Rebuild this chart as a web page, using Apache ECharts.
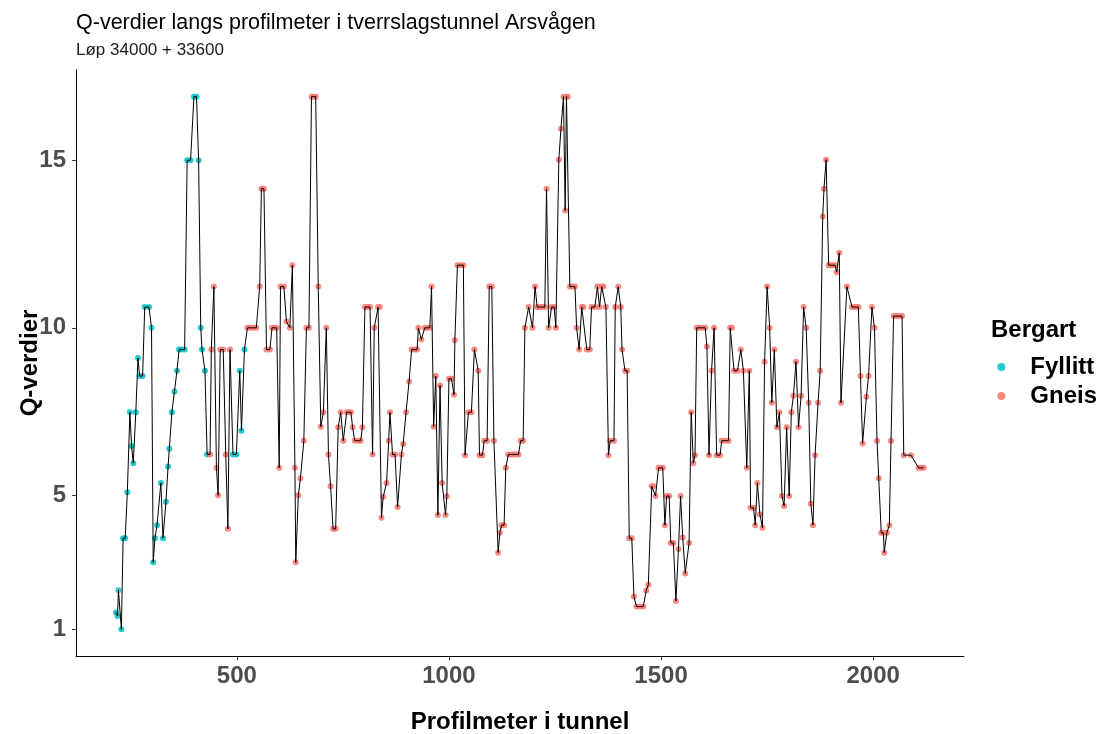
<!DOCTYPE html>
<html>
<head>
<meta charset="utf-8">
<script src="https://cdn.jsdelivr.net/npm/echarts@6/dist/echarts.min.js"></script>
<style>
  html, body { margin: 0; padding: 0; background: #fff; }
  #chart { width: 1101px; height: 734px; }
</style>
</head>
<body>
<div id="chart"></div>
<script>
var FONT = 'Liberation Sans, Arial, sans-serif';

var titleText = 'Q-verdier langs profilmeter i tverrslagstunnel Arsvågen';
var subtitleText = 'Løp 34000 + 33600';

// tick values shown on the axes
var xTicks = [500, 1000, 1500, 2000];
var yTicks = [1, 5, 10, 15];

// Fyllitt (profilmeter / Q)
var fyllittMeter = [215, 219, 221, 228, 232, 237, 242, 248, 252, 256,
                    262, 267, 271, 278, 283, 293, 299, 303, 307, 312,
                    321, 326, 333, 338, 341, 347, 353, 359, 364, 370,
                    377, 383, 391, 399, 405, 410, 415, 418, 425, 430,
                    491, 499, 507, 511, 518];
var fyllittQ = [1.5, 1.4, 2.17, 1.0, 3.72, 3.72, 5.09, 7.48, 6.47, 5.96,
                7.48, 9.1, 8.56, 8.56, 10.62, 10.62, 10.0, 3.0, 3.72, 4.11,
                5.37, 3.72, 4.81, 5.86, 6.39, 7.48, 8.1, 8.72, 9.35, 9.35,
                9.35, 15.0, 15.0, 16.9, 16.9, 15.0, 10.0, 9.35, 8.72, 6.22,
                6.22, 6.22, 8.72, 6.93, 9.35];

// Gneis (profilmeter / Q)
var gneisMeter = [437, 440, 446, 452, 456, 461, 468, 474, 479, 484,
                  525, 532, 539, 546, 554, 558, 564, 570, 578, 583,
                  588, 594, 600, 603, 611, 617, 625, 631, 637, 639,
                  645, 650, 658, 664, 670, 676, 681, 686, 692, 698,
                  704, 711, 716, 721, 727, 733, 739, 745, 751, 759,
                  764, 769, 773, 778, 786, 792, 796, 802, 808, 814,
                  820, 824, 833, 837, 841, 845, 853, 858, 861, 867,
                  873, 879, 888, 892, 899, 906, 912, 919, 925, 928,
                  935, 943, 949, 955, 959, 964, 969, 974, 979, 984,
                  992, 995, 1000, 1006, 1012, 1014, 1020, 1027, 1034, 1038,
                  1046, 1053, 1060, 1069, 1072, 1079, 1083, 1090, 1095, 1101,
                  1106, 1116, 1120, 1124, 1130, 1134, 1140, 1146, 1152, 1158,
                  1164, 1169, 1175, 1179, 1188, 1197, 1203, 1208, 1214, 1220,
                  1226, 1230, 1235, 1242, 1248, 1252, 1259, 1264, 1270, 1274,
                  1277, 1280, 1285, 1291, 1297, 1301, 1307, 1313, 1317, 1325,
                  1332, 1336, 1344, 1350, 1355, 1360, 1364, 1370, 1376, 1380,
                  1389, 1392, 1399, 1405, 1408, 1415, 1420, 1425, 1431, 1436,
                  1442, 1450, 1458, 1465, 1470, 1478, 1482, 1487, 1494, 1499,
                  1504, 1509, 1513, 1519, 1523, 1529, 1535, 1541, 1546, 1551,
                  1557, 1566, 1571, 1576, 1580, 1584, 1590, 1597, 1604, 1608,
                  1613, 1619, 1625, 1631, 1639, 1643, 1651, 1659, 1663, 1667,
                  1672, 1680, 1688, 1694, 1702, 1708, 1711, 1718, 1722, 1727,
                  1733, 1739, 1744, 1750, 1756, 1761, 1767, 1773, 1779, 1785,
                  1790, 1796, 1802, 1807, 1812, 1818, 1824, 1830, 1836, 1842,
                  1848, 1853, 1858, 1863, 1870, 1875, 1881, 1884, 1889, 1895,
                  1900, 1905, 1910, 1914, 1920, 1924, 1938, 1950, 1955, 1960,
                  1965, 1970, 1975, 1984, 1989, 1997, 2003, 2009, 2013, 2019,
                  2024, 2026, 2032, 2038, 2042, 2048, 2054, 2061, 2068, 2072,
                  2089, 2107, 2113, 2119];
var gneisQ = [6.22, 9.35, 11.23, 5.82, 5.0, 9.35, 9.35, 6.22, 4.0, 9.35,
              10, 10, 10, 10, 11.23, 14.15, 14.15, 9.35, 9.35, 10,
              10, 10, 5.82, 11.23, 11.23, 10.19, 10, 11.87, 5.82, 3.0,
              5.0, 5.51, 6.63, 10, 10, 16.9, 16.9, 16.9, 11.23, 7.05,
              7.48, 10, 6.22, 5.27, 4.0, 4.0, 7.03, 7.48, 6.63, 7.48,
              7.48, 7.48, 7.03, 6.63, 6.63, 6.63, 7.03, 10.62, 10.62, 10.62,
              6.22, 10, 10.62, 10.62, 4.33, 4.96, 5.37, 6.63, 7.48, 6.22,
              6.22, 4.65, 6.22, 6.53, 7.48, 8.4, 9.35, 9.35, 9.35, 10,
              9.65, 10, 10, 10, 11.23, 7.05, 8.56, 4.41, 8.28, 5.37,
              4.41, 4.97, 8.48, 8.48, 8.0, 9.63, 11.87, 11.87, 11.87, 6.2,
              7.48, 7.48, 9.35, 8.72, 6.2, 6.2, 6.63, 6.63, 11.23, 11.23,
              6.63, 3.29, 3.88, 4.11, 4.11, 5.82, 6.22, 6.22, 6.22, 6.22,
              6.22, 6.63, 6.63, 10, 10.62, 10, 11.23, 10.62, 10.62, 10.62,
              10.62, 14.15, 10, 10.62, 10.62, 10, 15.02, 15.94, 16.9, 13.5,
              16.9, 16.9, 11.23, 11.23, 11.23, 10, 9.35, 10.62, 10.62, 9.35,
              9.35, 10.62, 10.62, 11.23, 10.62, 11.23, 11.23, 10.62, 6.2, 6.63,
              6.63, 10.62, 11.23, 10.62, 9.35, 8.72, 8.72, 3.72, 3.72, 1.98,
              1.68, 1.68, 1.68, 2.16, 2.33, 5.27, 5.27, 4.98, 5.82, 5.82,
              5.82, 4.11, 4.98, 4.98, 3.58, 3.58, 1.85, 3.4, 4.98, 3.74,
              2.67, 3.58, 7.48, 5.96, 6.2, 10, 10, 10, 10, 9.44,
              6.2, 8.72, 10, 6.2, 6.2, 6.63, 6.63, 6.63, 10, 10,
              8.72, 8.72, 9.35, 8.72, 5.82, 8.72, 4.63, 4.63, 4.11, 5.37,
              4.43, 4.03, 8.99, 11.23, 10, 7.76, 9.35, 7.03, 7.48, 4.98,
              4.68, 7.03, 4.98, 7.48, 7.97, 8.99, 7.03, 7.97, 10.62, 10,
              7.76, 4.75, 4.11, 6.2, 7.76, 8.72, 13.32, 14.15, 15.02, 11.87,
              11.87, 11.87, 11.87, 11.66, 12.24, 7.76, 11.23, 10.62, 10.62, 10.62,
              10.62, 8.56, 6.55, 7.94, 8.56, 10.62, 10, 6.63, 5.51, 3.88,
              3.88, 3.29, 3.88, 4.11, 6.63, 10.35, 10.35, 10.35, 10.35, 6.2,
              6.2, 5.82, 5.82, 5.82];

var chart = echarts.init(document.getElementById('chart'));

function pairs(xs, ys) {
    var out = [];
    for (var i = 0; i < xs.length; i++) out.push([xs[i], ys[i]]);
    return out;
}

var fyllittData = pairs(fyllittMeter, fyllittQ);
var gneisData = pairs(gneisMeter, gneisQ);
// linja går gjennom alle punkt sortert langs tunnelen
var lineData = fyllittData.concat(gneisData).sort(function (a, b) { return a[0] - b[0]; });

var axisTitle = { fontFamily: FONT, fontSize: 24, fontWeight: 'bold', color: '#000' };
var tickLabel = { fontFamily: FONT, fontSize: 24, fontWeight: 'bold', color: '#4D4D4D' };

var option = {
    animation: false,
    backgroundColor: '#fff',
    textStyle: { fontFamily: FONT },
    title: [
        { text: titleText, left: 76, top: 12, padding: 0,
          textStyle: { fontFamily: FONT, fontSize: 21.5, fontWeight: 'normal', color: '#000' } },
        { text: subtitleText, left: 76, top: 42, padding: 0,
          textStyle: { fontFamily: FONT, fontSize: 17, fontWeight: 'normal', color: '#1a1a1a' } },
        { text: 'Bergart', left: 991, top: 318, padding: 0,
          textStyle: { fontFamily: FONT, fontSize: 24, fontWeight: 'bold', color: '#000' } }
    ],
    legend: {
        data: ['Fyllitt', 'Gneis'],
        orient: 'vertical',
        right: 4,
        top: 355,
        padding: 0,
        itemWidth: 48,
        itemHeight: 8,
        itemGap: 5,
        icon: 'circle',
        textStyle: { fontFamily: FONT, fontSize: 24, fontWeight: 'bold', color: '#000', lineHeight: 24 }
    },
    grid: { left: 76, top: 70, width: 888, height: 586, outerBoundsMode: 'none' },
    xAxis: {
        type: 'value',
        min: 121,
        max: 2214,
        name: 'Profilmeter i tunnel',
        nameLocation: 'middle',
        nameGap: 54,
        nameMoveOverlap: false,
        nameTextStyle: axisTitle,
        axisLine: { lineStyle: { color: '#000', width: 1 } },
        axisTick: { length: 4, lineStyle: { color: '#333' }, customValues: xTicks },
        axisLabel: Object.assign({
            customValues: xTicks,
            margin: 8,
            formatter: function (v) { return String(v); }
        }, tickLabel),
        splitLine: { show: false }
    },
    yAxis: {
        type: 'value',
        min: 0.205,
        max: 17.695,
        name: 'Q-verdier',
        nameLocation: 'middle',
        nameGap: 34,
        nameMoveOverlap: false,
        nameTextStyle: axisTitle,
        axisLine: { show: true, lineStyle: { color: '#000', width: 1 } },
        axisTick: { show: true, length: 4, lineStyle: { color: '#333' }, customValues: yTicks },
        axisLabel: Object.assign({
            customValues: yTicks,
            margin: 10,
            formatter: function (v) { return String(v); }
        }, tickLabel),
        splitLine: { show: false }
    },
    series: [
        {
            name: 'Fyllitt',
            type: 'scatter',
            data: fyllittData,
            symbolSize: 6,
            itemStyle: { color: '#00BFC4', opacity: 0.85 },
            z: 2
        },
        {
            name: 'Gneis',
            type: 'scatter',
            data: gneisData,
            symbolSize: 6,
            itemStyle: { color: '#F8766D', opacity: 0.85 },
            z: 2
        },
        {
            name: 'Q',
            type: 'line',
            data: lineData,
            showSymbol: false,
            symbol: 'none',
            lineStyle: { color: '#000', width: 1 },
            z: 3
        }
    ]
};

chart.setOption(option);
</script>
</body>
</html>
